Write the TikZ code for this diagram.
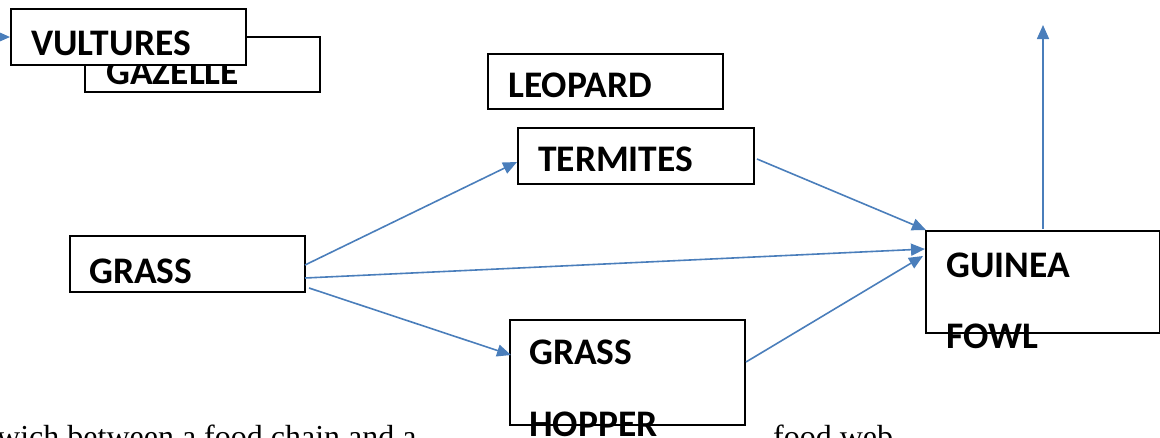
\documentclass[tikz,border=0pt]{standalone}
\usepackage{fontspec}
\setmainfont{Liberation Serif}
\newfontfamily\labelfont{Carlito}
\usetikzlibrary{arrows.meta}
\definecolor{arrowblue}{HTML}{4A7EBB}

\begin{document}
\begin{tikzpicture}[x=1pt,y=-1pt,
  box/.style={draw=black, line width=1.7pt, fill=white, inner sep=0pt,
              anchor=north west, minimum width=#1},
  box/.default=235pt,
  lbl/.style={anchor=base west, inner sep=0pt,
              font=\labelfont\bfseries\fontsize{37.5}{37.5}\selectfont},
  body/.style={anchor=base west, inner sep=0pt,
               font=\fontsize{32}{32}\selectfont},
  link/.style={draw=arrowblue, line width=1.6pt,
               -{Triangle[length=14pt,width=12pt]}}]

\clip (0,0) rectangle (1160,437);
\useasboundingbox (0,0) rectangle (1160,437);

% Gazelle sits behind the vultures box
\node[box, minimum height=55pt] (gaz) at (84,36) {};
\node[lbl] (gazt) at (106,84) {GAZELLE};
\node[box, minimum height=56pt] (vult) at (10,8) {};
\node[lbl] (vultt) at (31,55) {VULTURES};

\node[box, minimum height=55pt] (leop) at (487,53) {};
\node[lbl] (leopt) at (508,97) {LEOPARD};

\node[box=236pt, minimum height=56pt] (term) at (517,127) {};
\node[lbl] (termt) at (538,171) {TERMITES};

\node[box, minimum height=56pt] (grass) at (69,235) {};
\node[lbl] (grasst) at (89,283) {GRASS};

\node[box, minimum height=105pt] (hop) at (509,319) {};
\node[lbl] (hopt1) at (529,364) {GRASS};
\node[lbl] (hopt2) at (529,436) {HOPPER};

\node[box=234pt, minimum height=102pt] (guin) at (925,230) {};
\node[lbl] (guint1) at (946,277) {GUINEA};
\node[lbl] (guint2) at (946,348) {FOWL};

% connector end points
\coordinate (gA) at (305,265);
\coordinate (gB) at (305,278);
\coordinate (gC) at (309,288);
\coordinate (tIn) at (517,162);
\coordinate (hIn) at (511,355);
\coordinate (tOut) at (757,159);
\coordinate (hOut) at (746,362);
\coordinate (fA) at (926,230);
\coordinate (fB) at (925,249);
\coordinate (fC) at (923,256);
\coordinate (fTop) at (1043,229);
\coordinate (up) at (1043,25);
\coordinate (vFrom) at (-4,37);
\coordinate (vIn) at (10,37);

\draw[link] (gA) -- (tIn);
\draw[link] (gB) -- (fB);
\draw[link] (gC) -- (hIn);
\draw[link] (tOut) -- (fA);
\draw[link] (hOut) -- (fC);
\draw[link] (fTop) -- (up);
\draw[link] (vFrom) -- (vIn);

% running text below the diagram
\node[body] (txt1) at (-3,447) {wich between a food chain and a};
\node[body] (txt2) at (773,447) {food web};
\end{tikzpicture}
\end{document}
